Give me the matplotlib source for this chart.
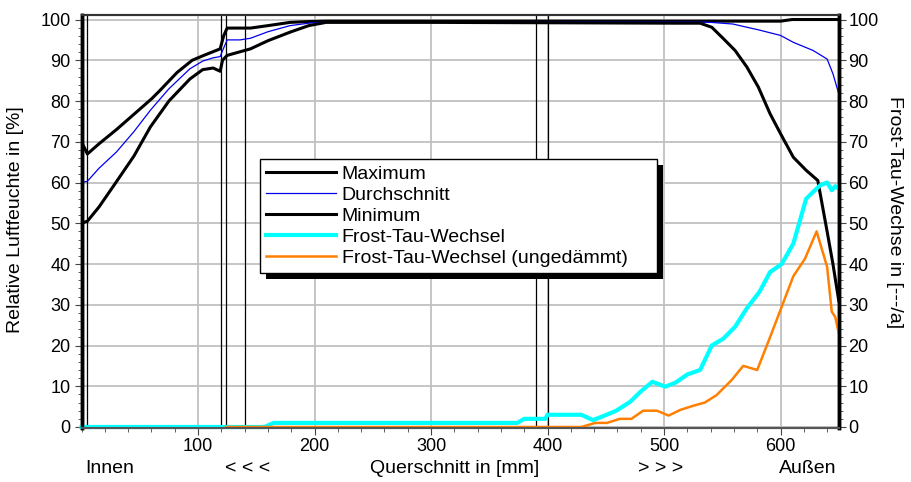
import matplotlib
matplotlib.use('Agg')
import matplotlib.pyplot as plt
import matplotlib.transforms as mtransforms
from matplotlib.patches import Rectangle
from matplotlib.ticker import MultipleLocator

plt.rcParams['font.family'] = ['Liberation Sans', 'DejaVu Sans']

# Werte
max_x = [0, 5, 15, 30, 44, 60, 67, 82, 95, 105, 119, 122, 125, 145, 160, 179, 195, 210, 250, 400, 600, 610, 650]
max_y = [70, 67, 69.5, 73, 76.5, 80.5, 82.5, 87, 90, 91.2, 92.8, 96, 97.9, 97.9, 98.5, 99.3, 99.5, 99.6, 99.6, 99.6, 99.6, 100, 100]

avg_x = [0, 5, 15, 30, 45, 59, 75, 93, 104, 113, 119, 122, 125, 136, 145, 160, 179, 195, 210, 300,
         530, 540, 559, 582, 600, 611, 628, 640, 645, 650]
avg_y = [60, 60.3, 63.5, 67.5, 72.5, 77.7, 83, 87.9, 89.8, 90.6, 90.9, 93, 95, 95, 95.4, 97, 98.5, 99.1, 99.4, 99.4,
         99.4, 99.3, 98.9, 97.4, 96.1, 94.4, 92.4, 90.3, 86.7, 81.8]

min_x = [0, 5, 15, 29, 45, 59, 75, 93, 104, 113, 119, 121, 125, 145, 160, 179, 195, 210, 300, 511, 531,
         541, 551, 561, 571, 581, 591, 600, 611, 622, 632, 640, 645, 650]
min_y = [50, 50.5, 54, 59.8, 66.5, 73.6, 80, 85.4, 87.7, 88.1, 87.3, 90, 91.2, 92.8, 94.8, 96.9, 98.5, 99.3, 99.3, 99.1, 99.1,
         98.1, 95.3, 92.4, 88.4, 83.4, 76.9, 72, 66.2, 63, 60.5, 48, 40, 31]

ftw_x = [0, 157, 165, 374, 380, 398, 400, 429, 439, 449, 459, 471, 480, 490, 501, 510, 520, 531, 541, 551,
         561, 571, 582, 591, 601, 611, 622, 628, 634, 640, 644, 647, 650]
ftw_y = [0, 0, 1, 1, 2, 2, 3, 3, 1.7, 2.8, 4, 6.2, 8.7, 11.1, 9.9, 10.9, 12.9, 14, 20, 21.7,
         24.6, 29.1, 33.2, 38, 40, 45, 56, 57.7, 59.3, 60, 58.1, 59.1, 58.5]

ftw_u_x = [124, 429, 441, 451, 462, 472, 482, 494, 504, 514, 525, 535, 545, 558, 568, 580, 591, 601, 611,
           621, 631, 640, 644, 647, 650]
ftw_u_y = [0, 0, 1, 1, 2, 2, 4, 4, 2.8, 4.2, 5.2, 6, 7.8, 11.5, 15, 14, 22, 29.5, 37,
           41.3, 48, 39.3, 28.3, 27, 23]

schichtgrenzen = [5, 120, 124, 140, 390, 400]

unten_x = [24.5, 143, 320, 497, 623.5]
unten_txt = ['Innen', '< < <', 'Querschnitt in [mm]', '> > >', 'Außen']

fig = plt.figure(figsize=(9.11, 4.82), dpi=100)
ax = fig.add_axes([0.0895, 0.1120, 0.8312, 0.8568])

ax.set_xlim(0, 650)
ax.set_ylim(-0.25, 101.1)
ax.grid(True, which='major', color='#c0c0c0', lw=1.3)
ax.set_axisbelow(True)

for xv in schichtgrenzen:
    ax.axvline(xv, color='black', lw=0.9, zorder=3)

ax.plot(max_x, max_y, color='black', lw=2.2, label='Maximum', zorder=4)
ax.plot(avg_x, avg_y, color='#0000ee', lw=0.9, label='Durchschnitt', zorder=4)
ax.plot(min_x, min_y, color='black', lw=2.2, label='Minimum', zorder=4)
ax.plot(ftw_x, ftw_y, color='#00ffff', lw=3, label='Frost-Tau-Wechsel', zorder=4, clip_on=False)
ax.plot(ftw_u_x, ftw_u_y, color='#ff8000', lw=1.8, label='Frost-Tau-Wechsel (ungedämmt)', zorder=4, clip_on=False)

ax.set_xticks(range(100, 700, 100))
ax.xaxis.set_minor_locator(MultipleLocator(20))
ax.set_yticks(range(0, 101, 10))
ax.yaxis.set_minor_locator(MultipleLocator(2))
ax.tick_params(axis='both', which='both', direction='out', color='#444444', labelsize=13)
ax.tick_params(axis='both', which='major', length=5)
ax.tick_params(axis='both', which='minor', length=3)
ax.tick_params(axis='x', pad=2)
ax.tick_params(axis='y', pad=3)

ax2 = ax.twinx()
ax2.set_ylim(ax.get_ylim())
ax2.set_yticks(range(0, 101, 10))
ax2.yaxis.set_minor_locator(MultipleLocator(2))
ax2.tick_params(axis='y', which='both', direction='out', color='#444444', labelsize=13, pad=2)
ax2.tick_params(axis='y', which='major', length=5)
ax2.tick_params(axis='y', which='minor', length=3)

for a in (ax, ax2):
    a.spines['left'].set_linewidth(2.5)
    a.spines['right'].set_linewidth(2.5)
    a.spines['top'].set_linewidth(1.5)
    a.spines['top'].set_color('#333333')
    a.spines['bottom'].set_linewidth(1.5)
    a.spines['bottom'].set_color('#555555')

ax.text(-0.087, 0.504, 'Relative Luftfeuchte in [%]', rotation=90, ha='center', va='center',
        fontsize=14, transform=ax.transAxes)
ax.text(1.074, 0.523, 'Frost-Tau-Wechse in [---/a]', rotation=270, ha='center', va='center',
        fontsize=14, transform=ax.transAxes)

trans = mtransforms.blended_transform_factory(ax.transData, ax.transAxes)
for xv, t in zip(unten_x, unten_txt):
    ax.text(xv, -0.097, t, ha='center', va='center', fontsize=14, transform=trans)

leg = ax2.legend(*ax.get_legend_handles_labels(), loc='upper left',
                 bbox_to_anchor=(0.2356, 0.0, 0.524, 0.6506), mode='expand', borderaxespad=0,
                 fontsize=14, frameon=True, fancybox=False, framealpha=1, edgecolor='black',
                 handlelength=3.6, handletextpad=0.3, labelspacing=0.18, borderpad=0.3)
leg.get_frame().set_linewidth(1.0)

# schwarzer Schatten unter der Legende
fig.canvas.draw()
bb = leg.get_window_extent()
shadow = Rectangle((bb.x0 + 6, bb.y0 - 6), bb.width, bb.height, facecolor='black',
                   edgecolor='none', transform=None, zorder=leg.get_zorder() - 0.1)
ax2.add_artist(shadow)
shadow.set_clip_on(False)

fig.savefig('out.png', dpi=100)
